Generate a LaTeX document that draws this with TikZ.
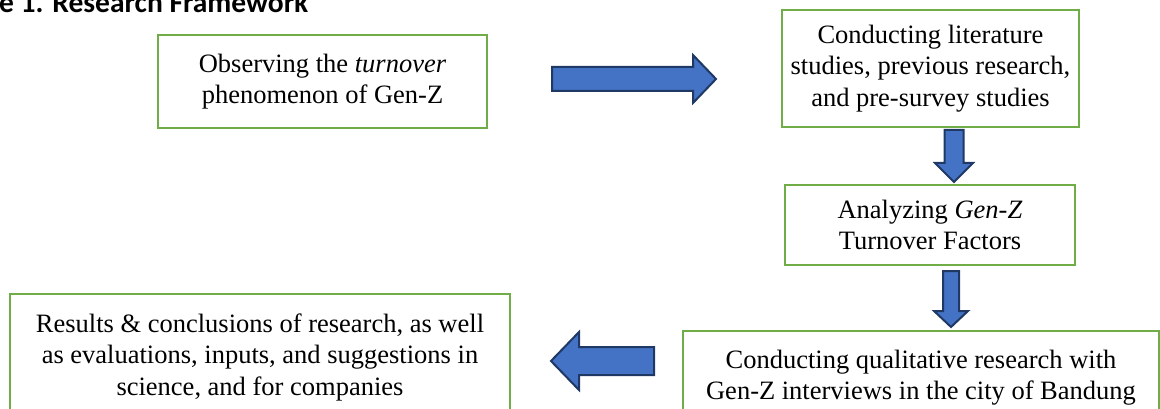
\documentclass[tikz,border=0pt]{standalone}
\usepackage{fontspec}
\setmainfont{Liberation Serif}
\newfontfamily\titlefont{Carlito}
\definecolor{boxgreen}{HTML}{70AD47}
\definecolor{arrowfill}{HTML}{4472C4}
\definecolor{arrowline}{HTML}{1F3864}
\begin{document}
\begin{tikzpicture}[x=1pt,y=-1pt,
  box/.style={draw=boxgreen, line width=2.5pt, fill=white, align=center, inner sep=0pt,
    font=\fontsize{26.5}{31.5}\selectfont},
  blockarrow/.style={draw=arrowline, fill=arrowfill, line width=2pt, line join=miter}]
\useasboundingbox (0,0) rectangle (1160,409);
\clip (0,0) rectangle (1160,409);
% title (cut by the page edge)
\node[anchor=base west, inner sep=0pt, font=\titlefont\bfseries\fontsize{29.5}{34}\selectfont] (title) at (-1,13) {e 1. Research Framework};
% boxes
\node[box, minimum width=329pt, minimum height=93pt] (b1) at (322.5,81.5)
  {Observing the \textit{turnover}\\ phenomenon of Gen-Z};
\node[box, minimum width=297pt, minimum height=117pt] (b2) at (930.5,68.5)
  {Conducting literature\\ studies, previous research,\\ and pre-survey studies};
\node[box, minimum width=290pt, minimum height=80pt] (b3) at (930,225)
  {Analyzing \textit{Gen-Z}\\ Turnover Factors};
\node[box, minimum width=476pt, minimum height=93pt] (b4) at (921,377.5)
  {Conducting qualitative research with\\ Gen-Z interviews in the city of Bandung};
\node[box, minimum width=500pt, minimum height=126pt] (b5) at (260,357)
  {Results \& conclusions of research, as well\\ as evaluations, inputs, and suggestions in\\ science, and for companies};
% block arrows
\draw[blockarrow] (552,67) -- (693,67) -- (693,55) -- (716,79) -- (693,103) -- (693,91) -- (552,91) -- cycle;
\draw[blockarrow] (944.5,130) -- (963.5,130) -- (963.5,163) -- (973,163) -- (954,182) -- (935,163) -- (944.5,163) -- cycle;
\draw[blockarrow] (943,271) -- (959,271) -- (959,311) -- (968,311) -- (951,327) -- (934,311) -- (943,311) -- cycle;
\draw[blockarrow] (654,347) -- (579,347) -- (579,332) -- (551,361) -- (579,390) -- (579,375) -- (654,375) -- cycle;
\end{tikzpicture}
\end{document}
